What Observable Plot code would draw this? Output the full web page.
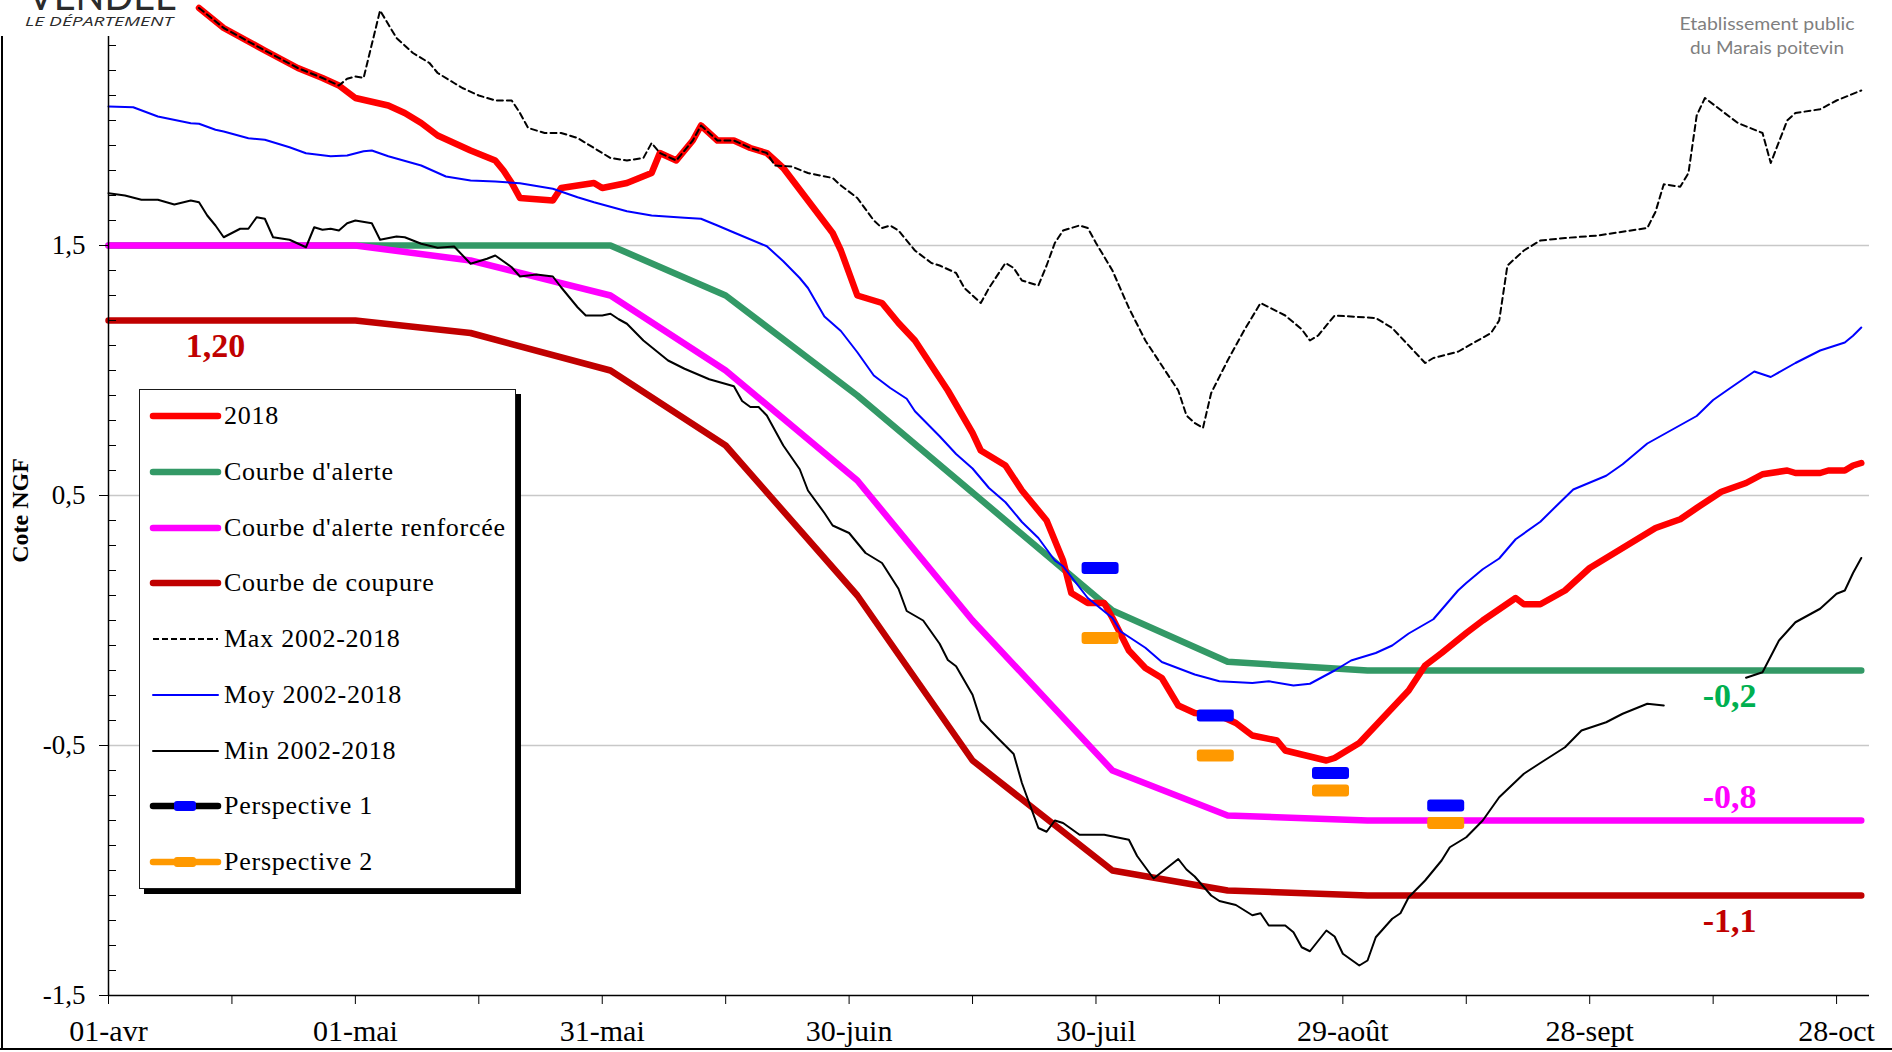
<!DOCTYPE html>
<html>
<head>
<meta charset="utf-8">
<script src="https://cdn.jsdelivr.net/npm/d3@7"></script>
<script src="https://cdn.jsdelivr.net/npm/@observablehq/plot@0.6"></script>
<style>
  html, body { margin: 0; padding: 0; background: #fff; }
  #page { position: relative; width: 1892px; height: 1052px; overflow: hidden; background: #fff; font-family: "Liberation Serif", "Times New Roman", serif; }
  #chart svg { position: absolute; left: 0; top: -40px; }
  #logo { position: absolute; left: 0; top: 0; }
  #epmp { position: absolute; left: 1660px; top: 0; }
  #frameLeft { position: absolute; left: 1px; top: 35px; width: 2px; height: 1015px; background: #000; }
  #frameBottom { position: absolute; left: 0; top: 1048px; width: 1892px; height: 2px; background: #000; }
  #legend { position: absolute; left: 139px; top: 389px; width: 375px; height: 498px; border: 1.5px solid #1a1a1a; background: #fff; box-shadow: 5px 5px 0 #000; }
  #legend .row { position: absolute; left: 0; height: 30px; display: flex; align-items: center; }
  #legend .row span { font-size: 26px; letter-spacing: 0.75px; color: #000; margin-left: 0px; white-space: nowrap; }
</style>
</head>
<body>
<div id="page">
  <div id="chart"></div>
  <div id="frameLeft"></div>
  <div id="frameBottom"></div>
  <svg id="logo" width="194" height="36">
    <rect x="0" y="0" width="194" height="36" fill="#fff"/>
    <text x="28" y="10" font-family="Lato, 'Open Sans', sans-serif" font-size="40" fill="#2b2b2b" textLength="149" lengthAdjust="spacingAndGlyphs">VENDÉE</text>
    <text x="25" y="26" font-family="'Open Sans', Lato, sans-serif" font-style="italic" font-size="12.5" fill="#2b2b2b" textLength="148" lengthAdjust="spacingAndGlyphs">LE DÉPARTEMENT</text>
  </svg>
  <svg id="epmp" width="220" height="70">
    <text x="107" y="30" text-anchor="middle" font-family="Lato, 'Open Sans', sans-serif" font-size="17" fill="#7f7f7f" textLength="175" lengthAdjust="spacingAndGlyphs">Etablissement public</text>
    <text x="107" y="54" text-anchor="middle" font-family="Lato, 'Open Sans', sans-serif" font-size="17" fill="#7f7f7f" textLength="154" lengthAdjust="spacingAndGlyphs">du Marais poitevin</text>
  </svg>
  <div id="legend"></div>
</div>
<script>
// ---------------- DATA ----------------
const YEAR = 2018;

// x-axis ticks (every 15 days) and labels
const xLabelDates = ["04-01", "05-01", "05-31", "06-30", "07-30", "08-29", "09-28", "10-28"];
const xTickLabels = ["01-avr", "01-mai", "31-mai", "30-juin", "30-juil", "29-août", "28-sept", "28-oct"];
const xMinorDates = ["04-16", "05-16", "06-15", "07-15", "08-14", "09-13", "10-13"];
const xDomainDates = ["04-01", "11-01"];

// y-axis
const yDomain = [-1.5, 2.5];
const yTickValues = [-1.5, -0.5, 0.5, 1.5];
const yTickLabels = ["-1,5", "-0,5", "0,5", "1,5"];
const gridValues = [-0.5, 0.5, 1.5, 2.5];

// 2018
const s2018 = [
  ["04-12",2.45],["04-15",2.37],["04-20",2.28],["04-24",2.21],["04-27",2.17],["04-29",2.14],["05-01",2.09],
  ["05-05",2.06],["05-07",2.03],["05-09",1.99],["05-11",1.94],["05-13",1.91],["05-15",1.88],["05-18",1.84],
  ["05-19",1.80],["05-20",1.75],["05-21",1.69],["05-25",1.68],["05-26",1.73],["05-30",1.75],["05-31",1.73],
  ["06-03",1.75],["06-06",1.79],["06-07",1.87],["06-09",1.84],["06-11",1.92],["06-12",1.98],["06-14",1.92],
  ["06-16",1.92],["06-18",1.89],["06-20",1.87],["06-22",1.81],["06-25",1.68],["06-28",1.55],["06-29",1.48],
  ["07-01",1.30],["07-04",1.27],["07-06",1.19],["07-08",1.12],["07-09",1.07],["07-12",0.92],["07-15",0.75],
  ["07-16",0.68],["07-19",0.62],["07-21",0.52],["07-24",0.40],["07-26",0.24],["07-27",0.11],["07-29",0.07],
  ["07-31",0.07],["08-01",0.01],["08-03",-0.12],["08-05",-0.19],["08-07",-0.23],["08-09",-0.34],["08-11",-0.37],
  ["08-14",-0.38],["08-16",-0.41],["08-18",-0.46],["08-21",-0.48],["08-22",-0.52],["08-27",-0.56],["08-28",-0.55],
  ["08-31",-0.49],["09-02",-0.42],["09-06",-0.28],["09-08",-0.18],["09-10",-0.13],["09-13",-0.05],["09-15",0.0],
  ["09-19",0.09],["09-20",0.065],["09-22",0.065],["09-25",0.12],["09-28",0.21],["10-02",0.29],["10-06",0.37],
  ["10-09",0.405],["10-11",0.45],["10-14",0.515],["10-17",0.55],["10-19",0.585],["10-22",0.60],["10-23",0.59],
  ["10-26",0.59],["10-27",0.60],["10-29",0.60],["10-30",0.62],["10-31",0.63]
];

// Courbe d'alerte
const alerte = [["04-01",1.5],["06-01",1.5],["06-15",1.3],["07-01",0.9],["08-01",0.04],["08-15",-0.165],["09-01",-0.2],["10-31",-0.2]];
// Courbe d'alerte renforcée
const renforcee = [["04-01",1.5],["05-01",1.5],["05-15",1.44],["06-01",1.3],["06-15",1.0],["07-01",0.56],["07-15",0.0],["08-01",-0.6],["08-15",-0.78],["09-01",-0.8],["10-31",-0.8]];
// Courbe de coupure
const coupure = [["04-01",1.2],["05-01",1.2],["05-15",1.15],["06-01",1.0],["06-15",0.7],["07-01",0.1],["07-15",-0.56],["08-01",-1.0],["08-15",-1.08],["09-01",-1.1],["10-31",-1.1]];

// Max 2002-2018
const sMax = [
  ["04-12",2.45],["04-15",2.37],["04-20",2.28],["04-24",2.21],["04-27",2.17],["04-29",2.14],["04-30",2.167],
  ["05-01",2.176],["05-02",2.17],["05-04",2.44],["05-06",2.33],["05-08",2.27],["05-10",2.23],["05-11",2.19],
  ["05-13",2.15],["05-14",2.13],["05-16",2.10],["05-18",2.08],["05-20",2.08],["05-21",2.03],["05-22",1.97],
  ["05-24",1.95],["05-26",1.95],["05-28",1.93],["05-30",1.89],["06-01",1.85],["06-03",1.84],["06-05",1.85],
  ["06-06",1.91],["06-07",1.87],["06-09",1.84],["06-11",1.92],["06-12",1.98],["06-14",1.92],["06-16",1.92],
  ["06-18",1.89],["06-20",1.87],["06-21",1.82],["06-23",1.816],["06-25",1.79],["06-28",1.77],["06-29",1.74],
  ["07-01",1.69],["07-03",1.60],["07-04",1.57],["07-05",1.58],["07-06",1.56],["07-08",1.48],["07-10",1.43],
  ["07-11",1.42],["07-13",1.39],["07-14",1.33],["07-16",1.27],["07-17",1.33],["07-19",1.43],["07-20",1.41],
  ["07-21",1.36],["07-23",1.34],["07-24",1.42],["07-25",1.51],["07-26",1.56],["07-28",1.58],["07-29",1.57],
  ["07-30",1.51],["08-01",1.40],["08-03",1.25],["08-05",1.12],["08-07",1.02],["08-09",0.92],["08-10",0.82],
  ["08-11",0.79],["08-12",0.77],["08-13",0.91],["08-15",1.04],["08-17",1.16],["08-19",1.27],["08-22",1.22],
  ["08-24",1.165],["08-25",1.12],["08-26",1.14],["08-28",1.22],["09-02",1.21],["09-04",1.17],["09-08",1.03],
  ["09-09",1.05],["09-12",1.075],["09-16",1.15],["09-17",1.20],["09-18",1.42],["09-19",1.45],["09-20",1.48],
  ["09-22",1.52],["09-25",1.53],["09-29",1.54],["10-05",1.57],["10-06",1.635],["10-07",1.745],["10-09",1.735],
  ["10-10",1.79],["10-11",2.02],["10-12",2.09],["10-14",2.04],["10-16",1.99],["10-19",1.95],["10-20",1.83],
  ["10-22",2.00],["10-23",2.03],["10-26",2.045],["10-28",2.08],["10-31",2.12]
];

// Moy 2002-2018
const sMoy = [
  ["04-01",2.056],["04-04",2.053],["04-07",2.016],["04-11",1.989],["04-12",1.987],["04-14",1.963],["04-15",1.956],
  ["04-18",1.929],["04-20",1.923],["04-23",1.893],["04-25",1.869],["04-28",1.857],["04-30",1.86],["05-02",1.877],
  ["05-03",1.88],["05-05",1.857],["05-09",1.82],["05-12",1.776],["05-15",1.76],["05-18",1.756],["05-21",1.749],
  ["05-25",1.727],["05-28",1.693],["05-30",1.673],["06-03",1.637],["06-06",1.62],["06-10",1.611],["06-12",1.607],
  ["06-14",1.58],["06-16",1.552],["06-20",1.497],["06-22",1.437],["06-24",1.37],["06-25",1.33],["06-27",1.216],
  ["06-29",1.158],["07-01",1.073],["07-03",0.98],["07-05",0.93],["07-07",0.887],["07-08",0.837],["07-11",0.737],
  ["07-13",0.666],["07-15",0.608],["07-17",0.53],["07-19",0.473],["07-21",0.394],["07-23",0.33],["07-25",0.24],
  ["07-26",0.217],["07-29",0.09],["08-01",0.01],["08-02",-0.044],["08-05",-0.109],["08-07",-0.166],["08-09",-0.191],
  ["08-11",-0.216],["08-14",-0.243],["08-18",-0.25],["08-20",-0.243],["08-23",-0.26],["08-25",-0.253],["08-28",-0.20],
  ["08-30",-0.16],["09-02",-0.13],["09-04",-0.10],["09-06",-0.052],["09-09",0.005],["09-12",0.12],["09-13",0.15],
  ["09-15",0.205],["09-17",0.248],["09-19",0.325],["09-22",0.395],["09-24",0.46],["09-26",0.524],["09-30",0.579],
  ["10-02",0.625],["10-05",0.708],["10-08",0.763],["10-11",0.818],["10-13",0.882],["10-15",0.928],["10-18",0.996],
  ["10-20",0.974],["10-23",1.03],["10-26",1.08],["10-29",1.112],["10-30",1.139],["10-31",1.172]
];

// Min 2002-2018 (gap in October)
const sMin = [
  ["04-01",1.709],["04-03",1.70],["04-05",1.683],["04-07",1.683],["04-09",1.664],["04-11",1.68],["04-12",1.673],
  ["04-13",1.62],["04-14",1.58],["04-15",1.533],["04-17",1.567],["04-18",1.567],["04-19",1.613],["04-20",1.607],
  ["04-21",1.533],["04-23",1.523],["04-25",1.493],["04-26",1.573],["04-27",1.563],["04-28",1.567],["04-29",1.56],
  ["04-30",1.589],["05-01",1.60],["05-03",1.589],["05-04",1.523],["05-06",1.536],["05-07",1.533],["05-09",1.507],
  ["05-11",1.491],["05-13",1.496],["05-15",1.427],["05-17",1.447],["05-18",1.46],["05-20",1.413],["05-21",1.376],
  ["05-23",1.384],["05-25",1.376],["05-26",1.333],["05-28",1.253],["05-29",1.22],["05-31",1.22],["06-01",1.227],
  ["06-02",1.205],["06-03",1.187],["06-05",1.12],["06-08",1.04],["06-10",1.007],["06-13",0.965],["06-16",0.937],
  ["06-17",0.878],["06-18",0.854],["06-19",0.854],["06-20",0.82],["06-22",0.70],["06-24",0.605],["06-25",0.52],
  ["06-27",0.43],["06-28",0.38],["06-30",0.35],["07-01",0.31],["07-02",0.27],["07-04",0.23],["07-06",0.127],
  ["07-07",0.038],["07-09",0.0],["07-11",-0.093],["07-12",-0.158],["07-13",-0.183],["07-15",-0.297],["07-16",-0.40],
  ["07-18",-0.468],["07-20",-0.534],["07-21",-0.65],["07-22",-0.74],["07-23",-0.83],["07-24",-0.845],["07-25",-0.80],
  ["07-26",-0.81],["07-28",-0.857],["07-31",-0.857],["08-03",-0.877],["08-04",-0.942],["08-06",-1.032],["08-09",-0.954],
  ["08-10",-0.996],["08-11",-1.024],["08-13",-1.10],["08-14",-1.122],["08-16",-1.138],["08-18",-1.179],["08-19",-1.171],
  ["08-20",-1.22],["08-22",-1.22],["08-23",-1.247],["08-24",-1.307],["08-25",-1.323],["08-27",-1.24],["08-28",-1.264],
  ["08-29",-1.333],["08-31",-1.38],["09-01",-1.36],["09-02",-1.267],["09-04",-1.193],["09-05",-1.171],["09-06",-1.107],
  ["09-08",-1.04],["09-10",-0.96],["09-11",-0.907],["09-13",-0.867],["09-15",-0.80],["09-17",-0.707],["09-20",-0.613],
  ["09-22",-0.57],["09-25",-0.507],["09-27",-0.44],["09-30",-0.407],["10-02",-0.373],["10-05",-0.333],["10-07",-0.34],
  ["10-08",null],
  ["10-17",-0.229],["10-19",-0.207],["10-21",-0.08],["10-23",-0.007],["10-26",0.047],["10-28",0.107],["10-29",0.12],
  ["10-30",0.19],["10-31",0.25]
];

// Perspectives
const perspDates = ["07-30", "08-13", "08-27", "09-10"];
const persp1Values = [0.21, -0.38, -0.61, -0.74];
const persp2Values = [-0.07, -0.54, -0.68, -0.81];

// Threshold annotations
const levelLabels = ["1,20", "-0,2", "-0,8", "-1,1"];
const levelValues = [1.2, -0.2, -0.8, -1.1];
const levelDates = ["04-14", "10-15", "10-15", "10-15"];

// Legend
const legendLabels = ["2018", "Courbe d'alerte", "Courbe d'alerte renforcée", "Courbe de coupure",
  "Max 2002-2018", "Moy 2002-2018", "Min 2002-2018", "Perspective 1", "Perspective 2"];

// ---------------- STYLES ----------------
const C = {
  s2018: "#ff0000", alerte: "#339966", renforcee: "#ff00ff", coupure: "#c00000",
  max: "#000000", moy: "#0000ff", min: "#000000", p1: "#0000ff", p2: "#ff9900",
  grid: "#c8c8c8"
};
const levelColors = ["#c00000", "#00b050", "#ff00ff", "#c00000"];

// ---------------- BUILD ----------------
const day = s => new Date(`${YEAR}-${s}T00:00:00Z`);
const noon = s => new Date(`${YEAR}-${s}T12:00:00Z`);
const rows = arr => arr.map(([d, v]) => ({date: day(d), value: v}));

const xLabelMap = new Map(xLabelDates.map((d, i) => [+day(d), xTickLabels[i]]));
const yLabelMap = new Map(yTickValues.map((v, i) => [v, yTickLabels[i]]));
const yMinor = d3.range(-15, 25).map(i => Math.round(i) / 10).filter(v => !yTickValues.includes(v));

const persp1 = perspDates.map((d, i) => ({date: noon(d), value: persp1Values[i]}));
const persp2 = perspDates.map((d, i) => ({date: noon(d), value: persp2Values[i]}));
const levels = levelLabels.map((t, i) => ({text: t, value: levelValues[i], date: day(levelDates[i]), color: levelColors[i]}));

const dashSymbol = {
  draw(ctx) {
    const w = 18.5, h = 6, r = 3;
    ctx.moveTo(-w + r, -h);
    ctx.lineTo(w - r, -h); ctx.arcTo(w, -h, w, -h + r, r);
    ctx.lineTo(w, h - r); ctx.arcTo(w, h, w - r, h, r);
    ctx.lineTo(-w + r, h); ctx.arcTo(-w, h, -w, h - r, r);
    ctx.lineTo(-w, -h + r); ctx.arcTo(-w, -h, -w + r, -h, r);
    ctx.closePath();
  }
};

const thick = {strokeWidth: 6.5, strokeLinecap: "round", strokeLinejoin: "round"};
const xDomain = xDomainDates.map(day);

const chart = Plot.plot({
  width: 1892,
  height: 1092,
  marginLeft: 108,
  marginRight: 23,
  marginTop: 35,
  marginBottom: 57,
  x: {type: "utc", domain: xDomain},
  y: {domain: yDomain},
  style: {fontFamily: "'Liberation Serif', 'Times New Roman', serif", color: "#000", background: "transparent", overflow: "visible"},
  marks: [
    Plot.ruleY(gridValues, {stroke: C.grid, strokeWidth: 1.5}),
    Plot.line(rows(alerte), {x: "date", y: "value", stroke: C.alerte, ...thick}),
    Plot.line(rows(renforcee), {x: "date", y: "value", stroke: C.renforcee, ...thick}),
    Plot.line(rows(coupure), {x: "date", y: "value", stroke: C.coupure, ...thick}),
    Plot.line(rows(s2018), {x: "date", y: "value", stroke: C.s2018, ...thick}),
    Plot.line(rows(sMax), {x: "date", y: "value", stroke: C.max, strokeWidth: 2, strokeDasharray: "6,4"}),
    Plot.line(rows(sMoy), {x: "date", y: "value", stroke: C.moy, strokeWidth: 2}),
    Plot.line(rows(sMin), {x: "date", y: "value", stroke: C.min, strokeWidth: 2}),
    Plot.dot(persp1, {x: "date", y: "value", symbol: dashSymbol, r: 5, fill: C.p1, stroke: "none"}),
    Plot.dot(persp2, {x: "date", y: "value", symbol: dashSymbol, r: 5, fill: C.p2, stroke: "none"}),
    // axis lines
    Plot.ruleX([xDomain[0]], {stroke: "#000", strokeWidth: 1.5}),
    Plot.ruleY([yDomain[0]], {stroke: "#000", strokeWidth: 1.5}),
    // x axis
    Plot.axisX({ticks: xLabelDates.map(day), tickSize: 9, tickPadding: 15, fontSize: 30,
      tickFormat: d => xLabelMap.get(+d), label: null}),
    Plot.axisX({ticks: xMinorDates.map(day), tickSize: 9, text: null, label: null}),
    // y axis
    Plot.axisY({ticks: yTickValues, tickSize: 9, tickPadding: 14, fontSize: 27,
      tickFormat: v => yLabelMap.get(v), label: null}),
    Plot.axisY({ticks: yMinor, tickSize: 8, dx: 8, text: null, label: null}),
    Plot.text(["Cote NGF"], {frameAnchor: "left", textAnchor: "middle", dx: -88, dy: 15, rotate: -90,
      fontSize: 24, fontWeight: "bold", fill: "#000"}),
    // threshold annotations
    Plot.text(levels.filter(d => d.text !== "-0,8"), {x: "date", y: "value", text: "text", fill: "color",
      dy: 26, fontSize: 34, fontWeight: "bold"}),
    Plot.text(levels.filter(d => d.text === "-0,8"), {x: "date", y: "value", text: "text", fill: "color",
      dy: -23, fontSize: 34, fontWeight: "bold"})
  ]
});
document.getElementById("chart").appendChild(chart);

// ---------------- LEGEND ----------------
const legendStyles = [
  {color: C.s2018, width: 6.5},
  {color: C.alerte, width: 6.5},
  {color: C.renforcee, width: 6.5},
  {color: C.coupure, width: 6.5},
  {color: C.max, width: 2, dash: "6,3"},
  {color: C.moy, width: 2},
  {color: C.min, width: 2},
  {color: "#000", width: 6.5, marker: C.p1},
  {color: C.p2, width: 6.5, marker: C.p2}
];
const legend = document.getElementById("legend");
legendLabels.forEach((label, i) => {
  const st = legendStyles[i];
  const row = document.createElement("div");
  row.className = "row";
  row.style.top = (26 + i * 55.75 - 15) + "px";
  const ns = "http://www.w3.org/2000/svg";
  const svg = document.createElementNS(ns, "svg");
  svg.setAttribute("width", 84); svg.setAttribute("height", 30);
  const line = document.createElementNS(ns, "line");
  line.setAttribute("x1", 13); line.setAttribute("x2", 78);
  line.setAttribute("y1", 15); line.setAttribute("y2", 15);
  line.setAttribute("stroke", st.color);
  line.setAttribute("stroke-width", st.width);
  line.setAttribute("stroke-linecap", st.dash ? "butt" : "round");
  if (st.dash) line.setAttribute("stroke-dasharray", st.dash);
  svg.appendChild(line);
  if (st.marker) {
    const r = document.createElementNS(ns, "rect");
    r.setAttribute("x", 34); r.setAttribute("y", 10);
    r.setAttribute("width", 22); r.setAttribute("height", 10);
    r.setAttribute("rx", 3); r.setAttribute("fill", st.marker);
    svg.appendChild(r);
  }
  row.appendChild(svg);
  const span = document.createElement("span");
  span.textContent = label;
  row.appendChild(span);
  legend.appendChild(row);
});
</script>
</body>
</html>
